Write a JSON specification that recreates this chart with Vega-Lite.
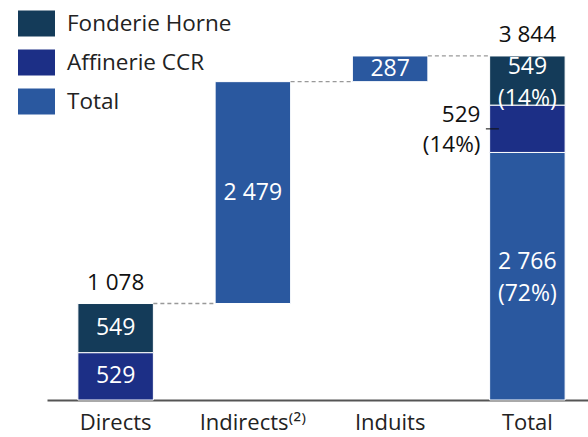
{
  "$schema": "https://vega.github.io/schema/vega-lite/v6.json",
  "width": 541,
  "height": 358,
  "autosize": {"type": "none"},
  "padding": {"left": 47, "top": 42, "right": 0, "bottom": 37},
  "background": "white",
  "config": {
    "view": {"stroke": null},
    "font": "Open Sans",
    "text": {"font": "Open Sans"}
  },
  "datasets": {
    "bars": [
      {"category": "Directs", "segment": "Affinerie CCR", "y0": 0, "y1": 529, "label": "529", "lines": 1},
      {"category": "Directs", "segment": "Fonderie Horne", "y0": 529, "y1": 1078, "label": "549", "lines": 1},
      {"category": "Indirects⁽²⁾", "segment": "Total", "y0": 1078, "y1": 3557, "label": "2 479", "lines": 1},
      {"category": "Induits", "segment": "Total", "y0": 3557, "y1": 3844, "label": "287", "lines": 1},
      {"category": "Total", "segment": "Total", "y0": 0, "y1": 2766, "label": "2 766\n(72%)", "lines": 2},
      {"category": "Total", "segment": "Affinerie CCR", "y0": 2766, "y1": 3295, "label": "", "lines": 0},
      {"category": "Total", "segment": "Fonderie Horne", "y0": 3295, "y1": 3844, "label": "549\n(14%)", "lines": 2}
    ],
    "links": [
      {"from": "Directs", "to": "Indirects⁽²⁾", "value": 1078},
      {"from": "Indirects⁽²⁾", "to": "Induits", "value": 3557},
      {"from": "Induits", "to": "Total", "value": 3844}
    ],
    "tops": [
      {"category": "Directs", "value": 1078, "label": "1 078"},
      {"category": "Total", "value": 3844, "label": "3 844"}
    ],
    "side": [
      {"category": "Total", "value": 3030, "label": "529\n(14%)"}
    ]
  },
  "layer": [
    {
      "data": {"name": "bars"},
      "mark": {"type": "bar", "stroke": "white", "strokeWidth": 1},
      "encoding": {
        "x": {
          "field": "category", "type": "nominal",
          "sort": ["Directs", "Indirects⁽²⁾", "Induits", "Total"],
          "scale": {"paddingInner": 0.45, "paddingOuter": 0.225, "range": [0, 549]},
          "title": null,
          "axis": {
            "labelAngle": 0, "labelFontSize": 22, "labelColor": "#222222",
            "labelPadding": 12, "ticks": false, "domainColor": "#555555",
            "domainWidth": 2, "labelFont": "Open Sans"
          }
        },
        "y": {"field": "y0", "type": "quantitative", "scale": {"domain": [0, 4000]}, "axis": null},
        "y2": {"field": "y1"},
        "color": {
          "field": "segment", "type": "nominal",
          "scale": {
            "domain": ["Fonderie Horne", "Affinerie CCR", "Total"],
            "range": ["#143B59", "#1C2F86", "#2A589F"]
          },
          "legend": {
            "title": null, "orient": "none", "legendX": -29, "legendY": -37,
            "direction": "vertical", "labelFontSize": 22.5, "labelColor": "#222222",
            "labelFont": "Open Sans", "labelLimit": 400,
            "symbolType": "M-1,-0.7L1,-0.7L1,0.7L-1,0.7Z", "symbolSize": 1369,
            "symbolStrokeWidth": 0, "symbolOpacity": 1, "rowPadding": 7, "labelOffset": 12, "padding": 0
          }
        }
      }
    },
    {
      "data": {"name": "links"},
      "mark": {"type": "rule", "strokeDash": [4, 3], "color": "#999999", "strokeWidth": 1.3},
      "encoding": {
        "x": {"field": "from", "type": "nominal", "bandPosition": 1, "sort": ["Directs", "Indirects⁽²⁾", "Induits", "Total"], "title": null},
        "x2": {"field": "to", "bandPosition": 0},
        "y": {"field": "value", "type": "quantitative"}
      }
    },
    {
      "data": {"name": "bars"},
      "transform": [
        {"filter": "datum.lines == 1"},
        {"calculate": "(datum.y0 + datum.y1) / 2", "as": "mid"}
      ],
      "mark": {"type": "text", "color": "white", "fontSize": 23, "baseline": "middle"},
      "encoding": {
        "x": {"field": "category", "type": "nominal", "sort": ["Directs", "Indirects⁽²⁾", "Induits", "Total"], "title": null},
        "y": {"field": "mid", "type": "quantitative"},
        "text": {"field": "label"}
      }
    },
    {
      "data": {"name": "bars"},
      "transform": [
        {"filter": "datum.lines == 2"},
        {"calculate": "(datum.y0 + datum.y1) / 2", "as": "mid"}
      ],
      "mark": {"type": "text", "color": "white", "fontSize": 23, "lineBreak": "\n", "lineHeight": 32, "baseline": "middle", "dy": -14},
      "encoding": {
        "x": {"field": "category", "type": "nominal", "sort": ["Directs", "Indirects⁽²⁾", "Induits", "Total"], "title": null},
        "y": {"field": "mid", "type": "quantitative"},
        "text": {"field": "label"}
      }
    },
    {
      "data": {"name": "tops"},
      "mark": {"type": "text", "color": "#111111", "fontSize": 22.5, "baseline": "bottom", "dy": -9},
      "encoding": {
        "x": {"field": "category", "type": "nominal", "sort": ["Directs", "Indirects⁽²⁾", "Induits", "Total"], "title": null},
        "y": {"field": "value", "type": "quantitative"},
        "text": {"field": "label"}
      }
    },
    {
      "data": {"name": "side"},
      "mark": {"type": "text", "color": "#111111", "fontSize": 22.5, "lineBreak": "\n", "lineHeight": 30, "baseline": "middle", "align": "right", "dx": -47, "dy": -14},
      "encoding": {
        "x": {"field": "category", "type": "nominal", "sort": ["Directs", "Indirects⁽²⁾", "Induits", "Total"], "title": null},
        "y": {"field": "value", "type": "quantitative"},
        "text": {"field": "label"}
      }
    },
    {
      "data": {"name": "side"},
      "mark": {"type": "tick", "color": "#111111", "size": 13, "thickness": 1.5, "xOffset": -35, "orient": "horizontal"},
      "encoding": {
        "x": {"field": "category", "type": "nominal", "sort": ["Directs", "Indirects⁽²⁾", "Induits", "Total"], "title": null},
        "y": {"field": "value", "type": "quantitative"}
      }
    }
  ]
}
